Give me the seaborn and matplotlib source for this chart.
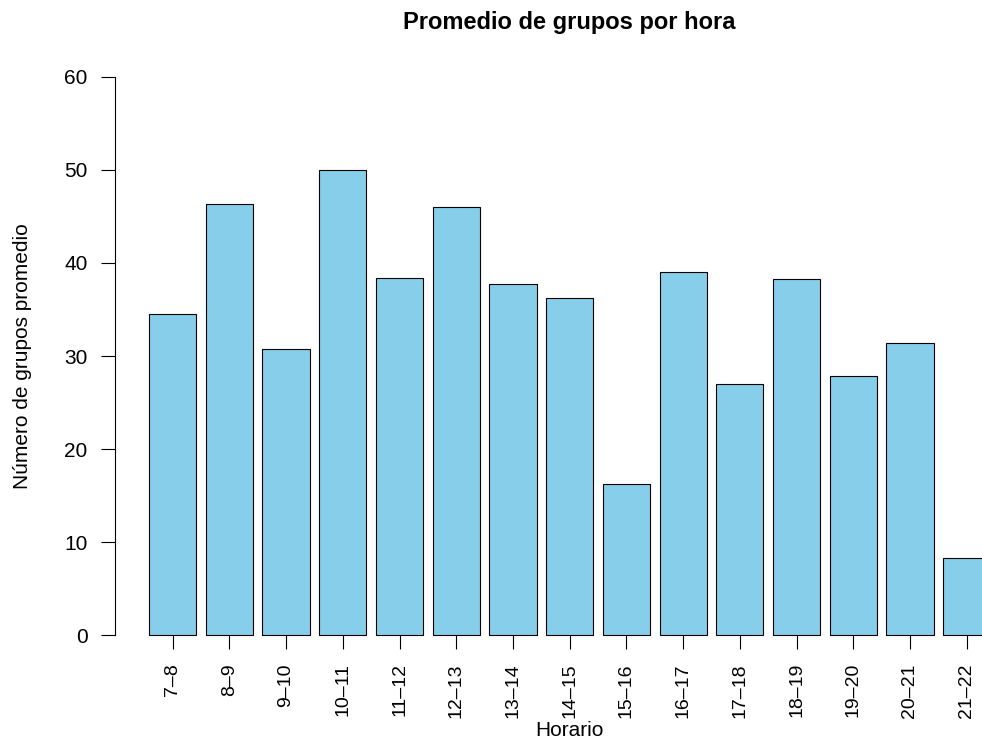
import pandas as pd
import matplotlib
matplotlib.use("Agg")
import matplotlib.pyplot as plt
import seaborn as sns

horario = ["7–8", "8–9", "9–10", "10–11", "11–12", "12–13", "13–14", "14–15",
           "15–16", "16–17", "17–18", "18–19", "19–20", "20–21", "21–22"]
promedio = [34.5, 46.3, 30.8, 50.0, 38.4, 46.0, 37.7, 36.2,
            16.2, 39.0, 27.0, 38.3, 27.9, 31.4, 8.3]

sns.set_style("white")
plt.rcParams['font.family'] = ['Liberation Sans', 'DejaVu Sans']
plt.rcParams['axes.unicode_minus'] = False
plt.rcParams['text.color'] = 'black'
plt.rcParams['axes.labelcolor'] = 'black'

df = pd.DataFrame({'Horario': horario, 'Promedio': promedio})

W, H = 982, 740
fig = plt.figure(figsize=(W / 100, H / 100), dpi=100)
# plot region in pixels (R style, runs past the right edge)
left, right, top, bottom = 115.4, 1024.0, 76.7, 635.3
ax = fig.add_axes([left / W, 1 - bottom / H, (right - left) / W, (bottom - top) / H])

sns.barplot(data=df, x='Horario', y='Promedio', color='#87CEEB', saturation=1,
            edgecolor='black', linewidth=0.8, width=1 / 1.2, ax=ax)
for p in ax.patches:
    p.set_clip_on(False)

ax.set_xlim(-1.01, 15.01)
ax.set_ylim(0, 60)
ax.set_yticks([0, 10, 20, 30, 40, 50, 60])

for s in ['top', 'right', 'bottom']:
    ax.spines[s].set_visible(False)
ax.spines['left'].set_linewidth(0.8)
ax.spines['left'].set_color('black')

ax.tick_params(axis='y', length=10, width=0.8, pad=10, labelsize=15, colors='black', left=True)
ax.tick_params(axis='x', length=10, width=0.8, pad=10, labelsize=14, colors='black',
               labelrotation=90, bottom=True)

ax.set_title("Promedio de grupos por hora", fontsize=17, fontweight='bold', color='black',
             y=1 + (top - 29) / (bottom - top), pad=0, va='baseline')

ax.set_ylabel("Número de grupos promedio", fontsize=15)
ax.yaxis.set_label_coords((22 - left) / (right - left), 0.5)
ax.yaxis.label.set_va('center')

ax.set_xlabel("Horario", fontsize=15)
ax.xaxis.set_label_coords(0.5, -(736 - bottom) / (bottom - top))
ax.xaxis.label.set_va('baseline')

plt.savefig("out.png", dpi=100)
